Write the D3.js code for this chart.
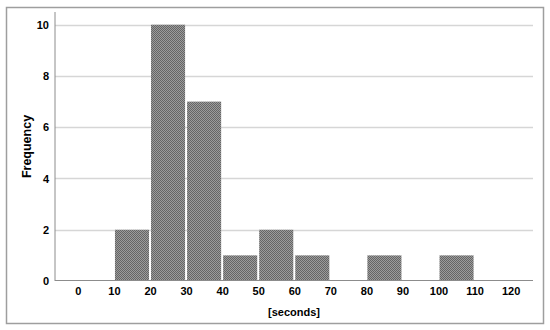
<!DOCTYPE html>
<html>
<head>
<meta charset="utf-8">
<script src="https://cdn.jsdelivr.net/npm/d3@7"></script>
<style>
  body { margin: 0; background: #fff; }
  svg text { font-family: 'Liberation Sans', Arial, sans-serif; fill: #000; }
</style>
</head>
<body>
<div id="chart"></div>
<script>
// histogram bins (lower edge, upper edge) and counts
const binStarts = [10, 20, 30, 40, 50, 60, 80, 100];
const binEnds = [20, 30, 40, 50, 60, 70, 90, 110];
const counts = [2, 10, 7, 1, 2, 1, 1, 1];
const xTicks = [0, 10, 20, 30, 40, 50, 60, 70, 80, 90, 100, 110, 120];
const yTicks = [0, 2, 4, 6, 8, 10];

const w = 550;
const h = 330;

const svg = d3.select('#chart')
  .append('svg')
  .attr('width', w)
  .attr('height', h);

// checker fill like the SPSS bars
const defs = svg.append('defs');
const pat = defs.append('pattern')
  .attr('id', 'checker')
  .attr('width', 2)
  .attr('height', 2)
  .attr('patternUnits', 'userSpaceOnUse');
pat.append('rect').attr('width', 2).attr('height', 2).attr('fill', '#9c9c9c');
pat.append('rect').attr('width', 1).attr('height', 1).attr('fill', '#656565');
pat.append('rect').attr('x', 1).attr('y', 1).attr('width', 1).attr('height', 1).attr('fill', '#656565');

// outer frame
svg.append('rect')
  .attr('x', 6.5)
  .attr('y', 7.5)
  .attr('width', 537)
  .attr('height', 316)
  .attr('fill', '#fff')
  .attr('stroke', '#9e9e9e')
  .attr('stroke-width', 1.5);

const plotLeft = 55, plotRight = 533, plotTop = 12, plotBottom = 281;

const x = d3.scaleLinear()
  .domain([-6.35, 126.2])
  .range([plotLeft, plotRight]);

const y = d3.scaleLinear()
  .domain([0, 10])
  .range([plotBottom, 24.7]);

// grid lines
svg.append('g')
  .selectAll('line')
  .data(yTicks.filter(d => d > 0))
  .enter()
  .append('line')
  .attr('x1', plotLeft)
  .attr('x2', plotRight)
  .attr('y1', d => Math.round(y(d)) + 0.5)
  .attr('y2', d => Math.round(y(d)) + 0.5)
  .attr('stroke', '#d6d6d6')
  .attr('stroke-width', 1.5);

// bars
svg.append('g')
  .selectAll('rect')
  .data(counts)
  .enter()
  .append('rect')
  .attr('x', (d, i) => x(binStarts[i]) + 1)
  .attr('y', d => y(d))
  .attr('width', (d, i) => x(binEnds[i]) - x(binStarts[i]) - 2)
  .attr('height', d => y(0) - y(d))
  .attr('fill', 'url(#checker)');

// axis lines
svg.append('line')
  .attr('x1', plotLeft).attr('x2', plotLeft)
  .attr('y1', plotTop).attr('y2', plotBottom)
  .attr('stroke', '#8c8c8c');
svg.append('line')
  .attr('x1', plotLeft).attr('x2', plotRight)
  .attr('y1', plotBottom - 0.5).attr('y2', plotBottom - 0.5)
  .attr('stroke', '#8c8c8c');

const yAxis = d3.axisLeft(y)
  .tickValues(yTicks)
  .tickSize(0)
  .tickPadding(6);

svg.append('g')
  .attr('transform', 'translate(' + plotLeft + ', 0)')
  .call(yAxis)
  .call(g => g.select('.domain').remove())
  .selectAll('text')
  .style('font-size', '11px')
  .style('font-weight', 'bold')
  .attr('fill', '#000');

const xAxis = d3.axisBottom(x)
  .tickValues(xTicks)
  .tickSize(0)
  .tickPadding(6);

svg.append('g')
  .attr('transform', 'translate(0, ' + plotBottom + ')')
  .call(xAxis)
  .call(g => g.select('.domain').remove())
  .selectAll('text')
  .style('font-size', '11px')
  .style('font-weight', 'bold')
  .attr('fill', '#000');

svg.append('text')
  .attr('x', (plotLeft + plotRight) / 2)
  .attr('y', 316)
  .style('text-anchor', 'middle')
  .style('font-size', '11px')
  .style('font-weight', 'bold')
  .text('[seconds]');

svg.append('text')
  .attr('transform', 'translate(31, ' + ((plotTop + plotBottom) / 2) + ') rotate(-90)')
  .style('text-anchor', 'middle')
  .style('font-size', '12.5px')
  .style('font-weight', 'bold')
  .text('Frequency');
</script>
</body>
</html>
